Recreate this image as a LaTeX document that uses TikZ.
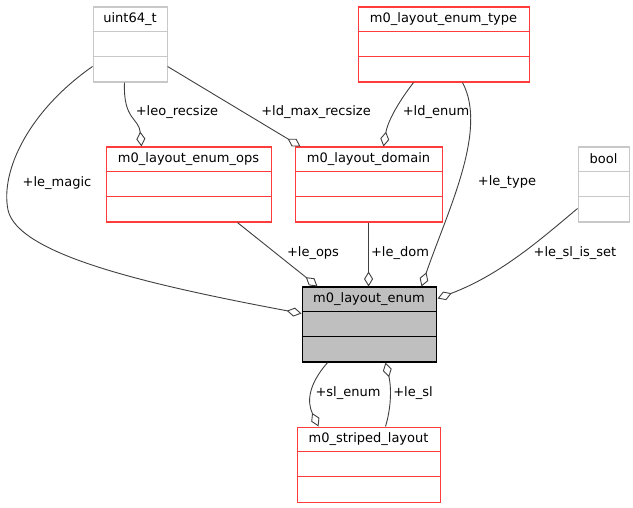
\documentclass[tikz,border=0pt]{standalone}
\usepackage{fontspec}
\setmainfont{DejaVu Sans}
\usetikzlibrary{arrows.meta,calc}
\definecolor{boxred}{RGB}{255,60,60}
\definecolor{boxgray}{RGB}{200,200,200}
\definecolor{edgegray}{RGB}{64,64,64}
\definecolor{enumfill}{RGB}{191,191,191}
\newcommand\umlclass[6]{%
  \node[#5, minimum width=#4pt, minimum height=75pt, anchor=north west] (#1) at (#2+0.5,#3+0.5) {};
  \node[lbl] (#1-title) at ($(#1.north)+(0,12.5)$) {#6};
  \draw[#5, fill=none] ($(#1.north west)+(0,25)$) -- ($(#1.north east)+(0,25)$);
  \draw[#5, fill=none] ($(#1.north west)+(0,50)$) -- ($(#1.north east)+(0,50)$);
}
\begin{document}
\begin{tikzpicture}[x=1pt,y=-1pt,
  lbl/.style={font=\fontsize{13}{15}\selectfont, inner sep=0pt, text=black},
  redbox/.style={draw=boxred, line width=1.1pt, inner sep=0pt},
  graybox/.style={draw=boxgray, line width=1.1pt, inner sep=0pt},
  mainbox/.style={draw=black, fill=enumfill, line width=1.1pt, inner sep=0pt},
  edge/.style={draw=edgegray, line width=0.9pt, -{Diamond[open,length=15pt,width=9pt]}},
  elabel/.style={lbl}]
\useasboundingbox[fill=white] (0,0) rectangle (633,508);
\umlclass{uint}{92}{6}{74}{graybox}{uint64\_t}
\umlclass{etype}{357}{6}{171}{redbox}{m0\_layout\_enum\_type}
\umlclass{ops}{105}{146}{165}{redbox}{m0\_layout\_enum\_ops}
\umlclass{dom}{294}{146}{147}{redbox}{m0\_layout\_domain}
\umlclass{bool}{577}{146}{51}{graybox}{bool}
\umlclass{enum}{301}{286}{134}{mainbox}{m0\_layout\_enum}
\umlclass{sl}{296}{426}{143}{redbox}{m0\_striped\_layout}
% edges
\draw[edge] ($(uint.north west)+(0,60)$) .. controls (30,110) and (0,170) .. (8,210)
  .. controls (18,255) and (150,285) .. ($(enum.north west)+(0,27)$);
\node[elabel] (l-magic) at (57,183) {+le\_magic};
\draw[edge] ($(uint.south west)+(32,0)$) .. controls (123,120) and (139,118) .. ($(ops.north west)+(36,0)$);
\node[elabel] (l-leo) at (177,112) {+leo\_recsize};
\draw[edge] ($(uint.north east)+(0,60)$) -- ($(dom.north west)+(6,0)$);
\node[elabel] (l-ldmax) at (316,112) {+ld\_max\_recsize};
\draw[edge] ($(etype.south west)+(56,0)$) .. controls (400,100) and (388,120) .. ($(dom.north west)+(89,0)$);
\node[elabel] (l-ldenum) at (436,112) {+ld\_enum};
\draw[edge] ($(etype.south west)+(105,0)$) .. controls (488,130) and (448,210) .. ($(enum.north west)+(120,0)$);
\node[elabel] (l-type) at (507,182) {+le\_type};
\draw[edge] ($(bool.north west)+(0,62)$) .. controls (540,240) and (500,275) .. ($(enum.north east)+(1,12)$);
\node[elabel] (l-slset) at (575,253) {+le\_sl\_is\_set};
\draw[edge] ($(ops.south west)+(132,0)$) -- ($(enum.north west)+(16,0)$);
\node[elabel] (l-ops) at (313,253) {+le\_ops};
\draw[edge] (dom.south) -- (dom.south |- enum.north);
\node[elabel] (l-dom) at (400,253) {+le\_dom};
\draw[edge] ($(enum.south west)+(26,0)$) .. controls (308,385) and (307,402) .. ($(sl.north west)+(22,0)$);
\node[elabel] (l-slenum) at (348,393) {+sl\_enum};
\draw[edge] ($(sl.north west)+(89,0)$) .. controls (392,405) and (391,385) .. ($(enum.south west)+(84,0)$);
\node[elabel] (l-lesl) at (413,393) {+le\_sl};
\end{tikzpicture}
\end{document}
